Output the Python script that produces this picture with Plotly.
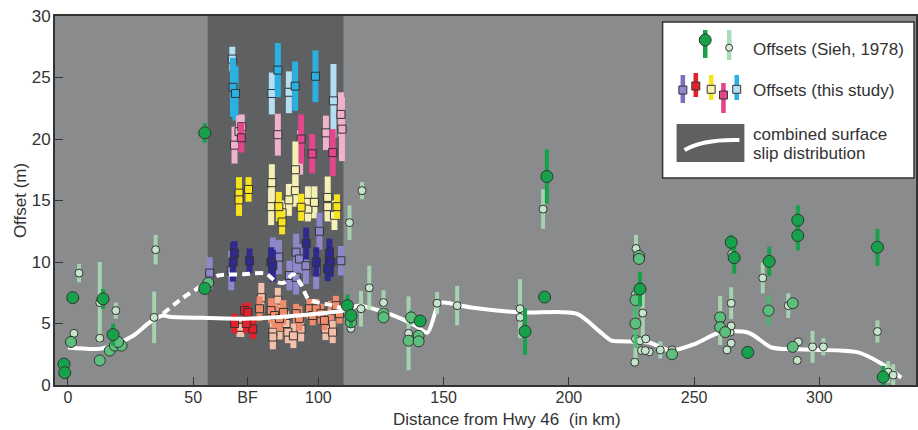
import plotly.graph_objects as go

# ---------------- data ----------------
# Combined surface slip distribution (solid) and alternative (dashed)
slip_x = [0, 12.7, 19.4, 26, 32.7, 37.9, 40.6, 56.6, 72.5, 92, 110, 116, 128, 139, 143.5, 148, 150,
          161, 181, 203, 212, 217, 220, 232, 240.6, 250.5, 260, 271.7, 281, 291.6, 315.5, 324.7, 332.7]
slip_y = [3.05, 2.95, 3.35, 4.0, 5.1, 5.65, 5.55, 5.45, 5.4, 5.65, 6.05, 6.45, 5.8, 4.8, 4.25, 6.6, 6.7,
          6.3, 5.9, 5.8, 4.4, 3.6, 3.55, 3.45, 2.8, 3.35, 4.25, 4.25, 3.05, 2.9, 2.65, 1.75, 0.6]
alt_x = [38, 46, 56, 60, 70, 79, 83, 86, 90, 93, 96, 100, 105, 110]
alt_y = [5.8, 7.1, 8.4, 8.9, 9.0, 9.05, 8.4, 8.3, 9.0, 8.2, 7.0, 6.7, 6.5, 6.2]

# Sieh (1978) offsets: dark (large), mid, light (small)
sieh_dark_x = [-1.6, -1.3, 1.9, 14.0, 18.0, 54.6, 54.6, 111.6, 113.0, 140.6, 182.5, 190.3, 191.2, 228.4,
               264.8, 266.0, 271.4, 280.0, 291.4, 291.4, 323.2, 325.5]
sieh_dark_y = [1.7, 1.0, 7.1, 7.0, 4.1, 20.5, 7.85, 6.45, 5.65, 5.2, 4.35, 7.15, 16.95, 7.8,
               11.6, 10.35, 2.65, 10.05, 13.4, 12.15, 11.2, 0.65]
sieh_dark_err = [0, 0, 0, 0.8, 0.9, 0.8, 0.5, 0.9, 0.9, 0, 1.9, 0, 2.2, 1.4,
                 0.6, 1.3, 0, 1.2, 1.2, 1.2, 1.5, 0.9]

sieh_mid_x = [1.2, 12.7, 16.7, 18.7, 21.4, 20.0, 56.0, 113.0, 126.0, 126.0, 136.0, 137.0, 140.0, 140.0,
              228.0, 228.0, 226.6, 226.6, 241.2, 260.4, 260.4, 262.4, 279.7, 289.4, 289.4]
sieh_mid_y = [3.5, 2.0, 2.8, 3.2, 3.2, 3.5, 8.3, 5.1, 5.8, 5.5, 3.6, 5.5, 4.0, 3.55,
              10.5, 10.25, 6.9, 5.0, 2.5, 5.5, 4.7, 4.3, 6.05, 6.65, 3.1]
sieh_mid_err = [0, 0, 0, 0, 0.5, 0, 0.4, 0, 0, 0, 0, 0.6, 0, 0,
                0, 0, 1.2, 2.0, 0.4, 0, 0, 0, 1.2, 0, 0]

sieh_light_x = [2.4, 4.4, 12.7, 12.7, 19.1, 35.0, 34.4, 112.4, 117.4, 120.3, 117.0, 113.0, 126.0, 136.0,
                147.4, 155.4, 180.5, 180.5, 189.7, 226.8, 226.6, 229.5, 226.6, 228.4, 230.7, 229.0,
                232.1, 230.5, 226.3, 236.5, 241.2, 264.4, 264.8, 264.8, 263.1, 264.8, 265.0, 260.4,
                277.4, 287.6, 291.6, 291.2, 297.3, 301.6, 323.2, 327.5, 329.5]
sieh_light_y = [4.2, 9.1, 6.7, 3.8, 6.05, 11.0, 5.5, 13.2, 15.8, 7.9, 6.2, 4.6, 6.7, 4.2,
                6.65, 6.45, 6.2, 5.5, 14.3, 11.1, 7.4, 5.85, 3.75, 3.6, 3.75, 2.8,
                2.7, 2.8, 1.85, 2.85, 2.85, 4.3, 4.8, 3.4, 2.85, 6.65, 10.65, 5.25,
                8.7, 6.45, 3.5, 2.0, 3.1, 3.1, 4.35, 1.05, 0.8]
sieh_light_err = [0, 0.75, 3.3, 0, 0.65, 1.2, 2.1, 1.4, 0.7, 1.8, 1.45, 0, 1.0, 3.0,
                  0.9, 1.6, 2.4, 0, 1.6, 1.1, 0, 2.0, 2.2, 0, 0, 0,
                  0, 0, 0, 0.7, 0, 0, 0, 0, 0, 1.3, 0, 2.0,
                  1.25, 1.0, 0, 0, 1.3, 0.7, 0.9, 0.9, 0.9]

# This study offsets, five groups, each with saturated and pale members
cyan_dark_x = [65.9, 66.9, 83.8, 90.7, 98.8]
cyan_dark_y = [24.2, 23.7, 25.6, 24.3, 25.1]
cyan_dark_err = [2.4, 2.2, 2.2, 2.0, 2.1]
cyan_light_x = [65.6, 81.4, 88.2, 106.0]
cyan_light_y = [26.5, 23.7, 23.8, 23.1]
cyan_light_err = [1.0, 1.7, 1.7, 3.0]

pink_dark_x = [69.2, 93.1, 97.5, 105.7]
pink_dark_y = [20.1, 20.0, 18.8, 18.9]
pink_dark_err = [1.2, 2.0, 1.6, 1.9]
pink_light_x = [66.5, 68.3, 69.4, 83.8, 92.7, 103.0, 109.0, 109.4]
pink_light_y = [19.5, 20.6, 21.0, 20.35, 18.9, 20.5, 22.0, 20.8]
pink_light_err = [1.5, 1.3, 1.0, 1.7, 1.8, 1.4, 1.8, 2.6]

yellow_dark_x = [68.3, 68.3, 72.1, 84.2, 85.5, 93.1, 107.4]
yellow_dark_y = [15.6, 15.05, 15.9, 14.5, 13.25, 14.45, 14.5]
yellow_dark_err = [1.3, 1.3, 1.0, 1.2, 1.0, 1.1, 1.0]
yellow_light_x = [81.4, 81.1, 88.2, 90.8, 90.8, 95.8, 95.8, 98.4, 103.7, 103.7, 106.4, 85.5]
yellow_light_y = [16.45, 14.5, 15.05, 17.5, 15.8, 14.85, 14.3, 14.85, 15.25, 14.5, 13.8, 14.0]
yellow_light_err = [1.5, 1.5, 1.3, 2.3, 1.3, 1.3, 1.0, 1.3, 1.7, 1.2, 1.2, 1.0]

purple_dark_x = [65.9, 66.5, 72.5, 81.1, 81.8, 95.1, 99.1, 104.4, 105.0, 103.7]
purple_dark_y = [10.0, 10.7, 10.1, 10.0, 9.7, 11.5, 10.0, 10.7, 10.0, 9.45]
purple_dark_err = [1.6, 1.0, 1.0, 1.2, 1.3, 1.3, 1.2, 1.2, 1.2, 1.0]
purple_light_x = [56.6, 65.2, 81.8, 84.2, 88.4, 91.1, 91.1, 92.4, 99.1, 100.4, 109.0, 95.0]
purple_light_y = [9.1, 9.3, 10.4, 10.4, 8.9, 8.75, 10.8, 10.25, 9.3, 12.5, 10.1, 9.7]
purple_light_err = [1.3, 1.6, 1.6, 1.4, 1.2, 1.4, 1.5, 1.2, 1.5, 1.5, 1.2, 1.5]

red_dark_x = [66.5, 70.5, 71.8, 73.8, 71.2]
red_dark_y = [5.0, 6.05, 5.9, 4.55, 5.0]
red_dark_err = [0.8, 0.6, 0.8, 0.8, 0.8]
red_mid_x = [76.5, 81.1, 82.5, 84.5, 86.0, 91.1, 92.4, 96.4, 97.7, 99.1, 101.0, 102.4, 105.0, 107.0, 108.4]
red_mid_y = [6.2, 6.05, 5.65, 5.4, 5.9, 5.8, 5.4, 6.2, 5.65, 6.2, 5.8, 5.25, 6.05, 6.45, 5.8]
red_mid_err = [1.0, 1.0, 1.0, 1.0, 1.0, 0.8, 1.0, 0.8, 0.8, 0.8, 0.8, 0.8, 0.8, 0.8, 0.8]
red_light_x = [69.2, 68.5, 77.2, 83.8, 84.5, 81.8, 81.8, 87.1, 87.8, 93.1, 102.8, 105.7, 90.0]
red_light_y = [4.7, 4.7, 7.1, 6.9, 4.7, 4.3, 3.9, 5.0, 4.3, 4.55, 4.55, 4.3, 4.0]
red_light_err = [0.8, 0.8, 1.2, 1.0, 1.0, 1.0, 1.0, 1.0, 0.9, 1.0, 0.9, 0.9, 1.0]

x_tick_vals = [0, 50, 71.7, 100, 150, 200, 250, 300]
x_tick_text = ["0", "50", "BF", "100", "150", "200", "250", "300"]
y_tick_vals = [0, 5, 10, 15, 20, 25, 30]
bf_zone = [55.8, 110]

# ---------------- layout constants ----------------
W, H = 918, 430
ML, MR, MT, MB = 55, 0, 16, 45
FONT = "Liberation Sans, Arial, sans-serif"
INK = "#333333"


def px(xp):
    return (xp - ML) / (W - ML - MR)


def py(yp):
    return (H - MB - yp) / (H - MT - MB)


fig = go.Figure()


def add_study(x, y, err, color, barcolor=None):
    fig.add_trace(go.Scatter(
        x=x, y=y, mode="markers", hoverinfo="skip",
        error_y=dict(type="data", array=err, visible=True, thickness=6, width=0,
                     color=barcolor or color),
        marker=dict(symbol="square", size=8, color=color, line=dict(color=INK, width=1)),
    ))


def add_sieh(x, y, err, color, barcolor, size, thick=4):
    fig.add_trace(go.Scatter(
        x=x, y=y, mode="markers", hoverinfo="skip",
        error_y=dict(type="data", array=err, visible=True, thickness=thick, width=0, color=barcolor),
        marker=dict(symbol="circle", size=size, color=color, line=dict(color=INK, width=1)),
    ))


# this study (pale first, saturated on top)
add_study(cyan_light_x, cyan_light_y, cyan_light_err, "#b4def2")
add_study(cyan_dark_x, cyan_dark_y, cyan_dark_err, "#2cb0e2")
add_study(pink_light_x, pink_light_y, pink_light_err, "#f0b2ca")
add_study(pink_dark_x, pink_dark_y, pink_dark_err, "#e2468c")
add_study(yellow_light_x, yellow_light_y, yellow_light_err, "#f6f0b4")
add_study(yellow_dark_x, yellow_dark_y, yellow_dark_err, "#f8e41e")
add_study(purple_light_x, purple_light_y, purple_light_err, "#8e88ca")
add_study(purple_dark_x, purple_dark_y, purple_dark_err, "#2e2a8e")
add_study(red_light_x, red_light_y, red_light_err, "#f5c0aa")
add_study(red_mid_x, red_mid_y, red_mid_err, "#ef8c6c")
add_study(red_dark_x, red_dark_y, red_dark_err, "#e4202a")

# slip distribution lines
fig.add_trace(go.Scatter(x=alt_x, y=alt_y, mode="lines", hoverinfo="skip",
                         line=dict(color="white", width=4, dash="8px,5px", shape="spline", smoothing=0.8)))
fig.add_trace(go.Scatter(x=slip_x, y=slip_y, mode="lines", hoverinfo="skip",
                         line=dict(color="white", width=4, shape="spline", smoothing=0.8)))

# Sieh 1978
add_sieh(sieh_light_x, sieh_light_y, sieh_light_err, "#c6e6cb", "rgba(170,222,182,0.85)", 8)
add_sieh(sieh_mid_x, sieh_mid_y, sieh_mid_err, "#5cbf7c", "rgba(70,185,110,0.9)", 11)
add_sieh(sieh_dark_x, sieh_dark_y, sieh_dark_err, "#16a24a", "#16a24a", 12)

shapes = [
    dict(type="rect", xref="x", yref="y", x0=bf_zone[0], x1=bf_zone[1], y0=0, y1=30,
         fillcolor="#5f6062", line=dict(width=0), layer="below"),
]

# ---- custom legend box (paper coordinates from pixel positions) ----
def prect(x0, y0, x1, y1, fill, line_w=0, line_c=INK):
    return dict(type="rect", xref="paper", yref="paper", x0=px(x0), x1=px(x1), y0=py(y1), y1=py(y0),
                fillcolor=fill, line=dict(width=line_w, color=line_c), layer="above")


def pcircle(cx, cy, r, fill):
    return dict(type="circle", xref="paper", yref="paper", x0=px(cx - r), x1=px(cx + r),
                y0=py(cy + r), y1=py(cy - r), fillcolor=fill, line=dict(width=1, color=INK), layer="above")


shapes.append(prect(664, 22, 916, 178, "white", 1.5))
# row 1
shapes.append(prect(704.5, 30, 709, 58, "#16a24a"))
shapes.append(pcircle(706.7, 40, 6, "#16a24a"))
shapes.append(prect(728.5, 30, 733, 60, "#a8dcb4"))
shapes.append(pcircle(730.7, 47.7, 3.5, "#d6eed9"))
# row 2
leg2 = [(684.3, 90, 75, 103, "#7d6fc0", "#9088cc"),
        (697.3, 86, 73, 97, "#e4202a", "#e4202a"),
        (712.7, 89.3, 75, 100, "#f8e41e", "#f6f0b4"),
        (725.0, 95, 83, 113, "#e2468c", "#e2468c"),
        (738.3, 89.3, 75, 100, "#2cb0e2", "#b4def2")]
for cx, cy, b0, b1, bc, sc in leg2:
    shapes.append(prect(cx - 2.3, b0, cx + 2.3, b1, bc))
    shapes.append(prect(cx - 4, cy - 4, cx + 4, cy + 4, sc, 1))
# row 3
shapes.append(prect(678, 124, 746, 162, "#5f6062"))
shapes.append(dict(type="path", xref="paper", yref="paper",
                   path=f"M {px(686)},{py(150)} Q {px(705)},{py(139)} {px(741)},{py(140)}",
                   line=dict(color="white", width=4), layer="above"))

annotations = []
for txt, yy in [("Offsets (Sieh, 1978)", 50), ("Offsets (this study)", 90),
                ("combined surface", 134), ("slip distribution", 153)]:
    annotations.append(dict(text=txt, xref="paper", yref="paper", x=px(753), y=py(yy),
                            xanchor="left", yanchor="middle", showarrow=False,
                            font=dict(family=FONT, size=17, color=INK)))
annotations.append(dict(text="Distance from Hwy 46\u00a0 (in km)", xref="paper", yref="paper",
                        x=px(508), y=py(419), xanchor="center", yanchor="middle", showarrow=False,
                        font=dict(family=FONT, size=17, color=INK)))

fig.update_layout(
    width=W, height=H,
    margin=dict(l=ML, r=MR, t=MT, b=MB, pad=0),
    paper_bgcolor="white", plot_bgcolor="#8a8b8d",
    showlegend=False,
    shapes=shapes, annotations=annotations,
    font=dict(family=FONT, size=17, color=INK),
    xaxis=dict(range=[-5.18, 338.6], tickmode="array", tickvals=x_tick_vals, ticktext=x_tick_text,
               ticks="inside", ticklen=8, tickcolor=INK, tickwidth=1, showgrid=False, zeroline=False,
               showline=True, linecolor=INK, linewidth=2, mirror=True,
               tickfont=dict(family=FONT, size=16, color=INK), ticklabelstandoff=-3),
    yaxis=dict(range=[0, 30], tickmode="array", tickvals=y_tick_vals,
               ticks="inside", ticklen=8, tickcolor=INK, tickwidth=1, showgrid=False, zeroline=False,
               showline=True, linecolor=INK, linewidth=2, mirror=True,
               tickfont=dict(family=FONT, size=17, color=INK), ticklabelstandoff=-1,
               title=dict(text="Offset (m)", font=dict(family=FONT, size=17, color=INK), standoff=1)),
)

fig.write_html("out.html", post_script="document.body.style.margin='0px';",
               config={"displayModeBar": False})
